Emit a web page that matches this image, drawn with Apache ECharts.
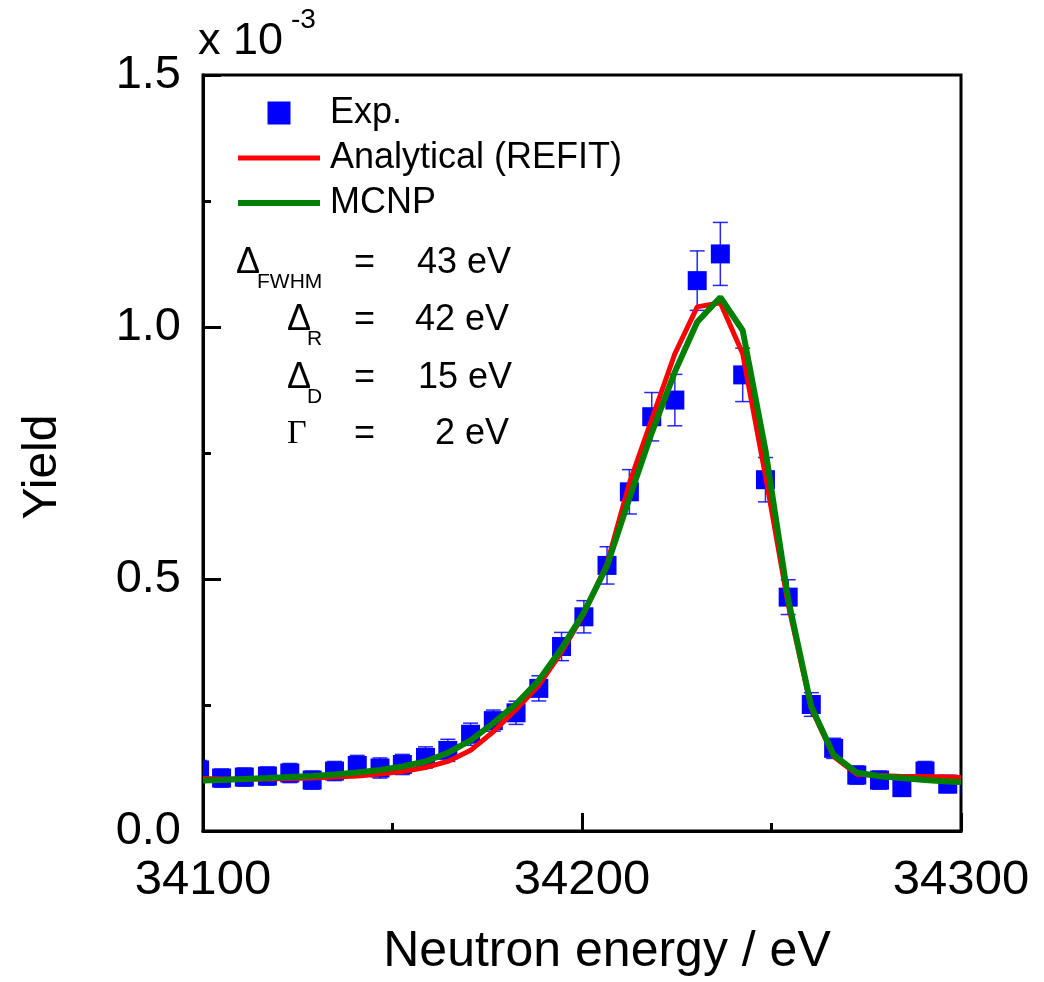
<!DOCTYPE html>
<html>
<head>
<meta charset="utf-8">
<script src="https://cdn.jsdelivr.net/npm/echarts@6/dist/echarts.min.js"></script>
<style>
  html, body { margin: 0; padding: 0; background: #fff; }
  #chart { width: 1044px; height: 982px; }
</style>
</head>
<body>
<div id="chart"></div>
<script>
// Measured capture yield around the 34.23 keV resonance (values in units of 1e-3)
const expEnergy = [34099.1, 34104.9, 34110.9, 34117.0, 34122.9, 34128.8, 34134.7, 34140.7, 34146.7, 34152.6,
                   34158.7, 34164.6, 34170.6, 34176.6, 34182.6, 34188.6, 34194.6, 34200.5, 34206.6, 34212.5,
                   34218.4, 34224.5, 34230.4, 34236.5, 34242.4, 34248.4, 34254.4, 34260.5, 34266.4, 34272.5,
                   34278.5, 34284.4, 34290.5, 34296.5, 34302.4];
const expYield = [0.121, 0.105, 0.107, 0.109, 0.115, 0.101, 0.119, 0.130, 0.125, 0.132,
                  0.146, 0.160, 0.192, 0.219, 0.2345, 0.283, 0.366, 0.425, 0.527, 0.673,
                  0.822, 0.855, 1.092, 1.145, 0.905, 0.697, 0.464, 0.251, 0.164, 0.111,
                  0.101, 0.086, 0.119, 0.093, 0.090];
const expError = [0.019, 0.018, 0.018, 0.018, 0.019, 0.018, 0.019, 0.020, 0.020, 0.020,
                  0.021, 0.022, 0.022, 0.021, 0.023, 0.025, 0.028, 0.032, 0.037, 0.044,
                  0.048, 0.051, 0.059, 0.0625, 0.053, 0.044, 0.0345, 0.0235, 0.020, 0.018,
                  0.018, 0.017, 0.019, 0.017, 0.017];

// Calculated yield curves
const calcEnergy = [34100, 34104.9, 34110.9, 34117.0, 34122.9, 34128.8, 34134.7, 34140.7, 34146.7, 34152.6,
                    34158.7, 34164.6, 34170.6, 34176.6, 34182.6, 34188.6, 34194.6, 34200.5, 34206.6, 34212.5,
                    34218.4, 34224.5, 34230.4, 34236.5, 34242.4, 34248.4, 34254.4, 34260.5, 34266.4, 34272.5,
                    34278.5, 34284.4, 34290.5, 34296.5, 34300];
const refitYield = [0.104, 0.103, 0.103, 0.103, 0.104, 0.105, 0.107, 0.109, 0.113, 0.118,
                    0.126, 0.138, 0.160, 0.197, 0.241, 0.289, 0.355, 0.431, 0.530, 0.690,
                    0.817, 0.947, 1.040, 1.048, 0.947, 0.705, 0.450, 0.243, 0.148, 0.1125,
                    0.110, 0.108, 0.108, 0.107, 0.106];
const mcnpYield = [0.100, 0.101, 0.103, 0.105, 0.107, 0.109, 0.112, 0.116, 0.121, 0.128,
                   0.138, 0.155, 0.180, 0.214, 0.252, 0.299, 0.362, 0.434, 0.526, 0.660,
                   0.790, 0.911, 1.010, 1.059, 0.993, 0.756, 0.460, 0.247, 0.151, 0.116,
                   0.1085, 0.105, 0.101, 0.098, 0.097];

const xTicks = [34100, 34200, 34300];
const yTicks = ['0.0', '0.5', '1.0', '1.5'];

const SANS = '"Liberation Sans", Arial, sans-serif';
const SERIF = '"Liberation Serif", "Times New Roman", serif';
const BLUE = '#0000FF', RED = '#FF0000', GREEN = '#008000';

const expData = expEnergy.map((e, i) => [e, expYield[i], expError[i]]);
const refitData = calcEnergy.map((e, i) => [e, refitYield[i]]);
const mcnpData = calcEnergy.map((e, i) => [e, mcnpYield[i]]);

// square marker with vertical error bar and caps
function renderPoint(params, api) {
  const x = api.value(0), y = api.value(1), err = api.value(2);
  const c = api.coord([x, y]);
  const hi = api.coord([x, y + err]);
  const lo = api.coord([x, y - err]);
  const half = 9.5, cap = 7.5;
  const bar = { stroke: BLUE, lineWidth: 1.5, opacity: 0.85 };
  return {
    type: 'group',
    children: [
      { type: 'line', shape: { x1: c[0], y1: hi[1], x2: c[0], y2: lo[1] }, style: bar },
      { type: 'line', shape: { x1: c[0] - cap, y1: hi[1], x2: c[0] + cap, y2: hi[1] }, style: bar },
      { type: 'line', shape: { x1: c[0] - cap, y1: lo[1], x2: c[0] + cap, y2: lo[1] }, style: bar },
      { type: 'rect', shape: { x: c[0] - half, y: c[1] - half, width: 2 * half, height: 2 * half },
        style: { fill: BLUE } }
    ]
  };
}

const chart = echarts.init(document.getElementById('chart'), null, { renderer: 'canvas' });

const params = [
  // [symbol, symbolLeft, subscript, subLeft, value, valueLeft, centerY]
  ['Δ', 236, 'FWHM', 257, '43 eV', 417, 263],
  ['Δ', 287, 'R', 307, '42 eV', 415, 320],
  ['Δ', 287, 'D', 307, '15 eV', 418, 378],
  ['Γ', 287, '', 0, '2 eV', 435, 434]
];

const graphics = [];
params.forEach(p => {
  const [sym, sx, sub, subx, val, vx, cy] = p;
  graphics.push({
    type: 'text', x: sx, y: cy,
    style: { text: sym, font: (sym === 'Γ' ? '34px ' + SERIF : '36px ' + SANS), fill: '#000', verticalAlign: 'middle' }
  });
  if (sub) {
    graphics.push({
      type: 'text', x: subx, y: cy + 19,
      style: { text: sub, font: '21px ' + SANS, fill: '#000', verticalAlign: 'middle' }
    });
  }
  graphics.push({
    type: 'text', x: 354, y: cy,
    style: { text: '=', font: '36px ' + SANS, fill: '#000', verticalAlign: 'middle' }
  });
  graphics.push({
    type: 'text', x: vx, y: cy,
    style: { text: val, font: '36px ' + SANS, fill: '#000', verticalAlign: 'middle' }
  });
});
// axis multiplier
graphics.push({
  type: 'text', x: 198, y: 42,
  style: { text: 'x 10', font: '45px ' + SANS, fill: '#000', verticalAlign: 'middle' }
});
graphics.push({
  type: 'text', x: 291, y: 20,
  style: { text: '-3', font: '28px ' + SANS, fill: '#000', verticalAlign: 'middle' }
});

chart.setOption({
  animation: false,
  backgroundColor: '#fff',
  grid: {
    left: 203, right: 83, top: 75, bottom: 147,
    show: true, borderColor: '#000', borderWidth: 3, backgroundColor: 'transparent'
  },
  xAxis: {
    type: 'value', min: 34100, max: 34300, interval: 100,
    name: 'Neutron energy / eV', nameLocation: 'middle', nameGap: 96,
    nameTextStyle: { fontFamily: SANS, fontSize: 50, color: '#000', padding: [0, 0, 0, 50] },
    axisLine: { show: true, onZero: false, lineStyle: { color: '#000', width: 3 } },
    axisTick: { show: true, inside: true, length: 18, lineStyle: { color: '#000', width: 3 } },
    minorTick: { show: true, splitNumber: 2, length: 8, lineStyle: { color: '#000', width: 3 } },
    splitLine: { show: false },
    axisLabel: {
      fontFamily: SANS, fontSize: 49, color: '#000', margin: 25,
      formatter: v => (xTicks.indexOf(v) >= 0 ? String(v) : '')
    }
  },
  yAxis: {
    type: 'value', min: 0, max: 1.5, interval: 0.5,
    name: 'Yield', nameLocation: 'middle', nameGap: 136, nameRotate: 90,
    nameTextStyle: { fontFamily: SANS, fontSize: 48, color: '#000', padding: [0, 28, 0, 0] },
    axisLine: { show: true, onZero: false, lineStyle: { color: '#000', width: 3 } },
    axisTick: { show: true, inside: true, length: 18, lineStyle: { color: '#000', width: 3 } },
    minorTick: { show: true, splitNumber: 2, length: 8, lineStyle: { color: '#000', width: 3 } },
    splitLine: { show: false },
    axisLabel: {
      fontFamily: SANS, fontSize: 47, color: '#000', margin: 22,
      formatter: v => yTicks[Math.round(v / 0.5)]
    }
  },
  legend: {
    orient: 'vertical', left: 238, top: 95, padding: 0,
    itemWidth: 82, itemHeight: 23, itemGap: 9,
    selectedMode: false,
    textStyle: { fontFamily: SANS, fontSize: 36, color: '#000', padding: [0, 0, 0, 5] },
    data: [
      { name: 'Exp.', icon: 'path://M0,0H10V10H0Z' },
      { name: 'Analytical (REFIT)', icon: 'path://M0,0H82V5H0Z' },
      { name: 'MCNP', icon: 'path://M0,0H82V6H0Z' }
    ]
  },
  graphic: graphics,
  series: [
    {
      name: 'Exp.', type: 'custom', clip: true, z: 2,
      itemStyle: { color: BLUE },
      renderItem: renderPoint,
      encode: { x: 0, y: 1 },
      data: expData
    },
    {
      name: 'Analytical (REFIT)', type: 'line', z: 3, symbol: 'none', showSymbol: false,
      lineStyle: { color: RED, width: 5 }, itemStyle: { color: RED },
      data: refitData
    },
    {
      name: 'MCNP', type: 'line', z: 4, symbol: 'none', showSymbol: false,
      lineStyle: { color: GREEN, width: 6 }, itemStyle: { color: GREEN },
      data: mcnpData
    }
  ]
});
</script>
</body>
</html>
